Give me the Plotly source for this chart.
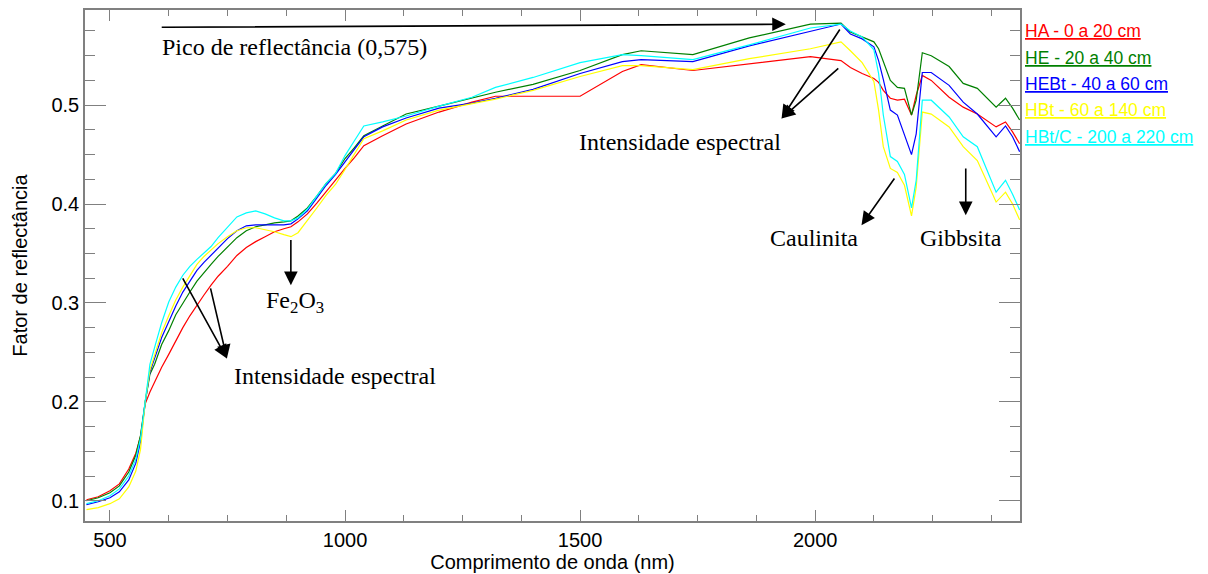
import plotly.graph_objects as go

# Wavelength grid (nm)
wavelength = [450, 475, 500, 520, 540, 555, 565, 575, 585, 595, 610, 625, 640, 655, 670,
              685, 700, 715, 730, 750, 770, 790, 810, 830, 850, 870, 885, 900, 920, 940,
              960, 980, 1000, 1020, 1040, 1080, 1130, 1200, 1270, 1320, 1400, 1500, 1590,
              1630, 1740, 1860, 1990, 2055, 2075, 2100, 2125, 2135, 2145, 2160, 2175, 2190,
              2205, 2215, 2228, 2247, 2285, 2315, 2345, 2385, 2405, 2420, 2435]

# Reflectance factor per soil horizon
ha = [.101, .104, .110, .117, .132, .148, .165, .198, .210, .220, .235, .248, .262, .275, .287,
      .298, .308, .318, .327, .337, .348, .356, .362, .367, .372, .375, .377, .382, .390, .401,
      .413, .425, .436, .447, .459, .469, .481, .493, .503, .509, .509, .509, .534,
      .541, .535, .542, .549, .545, .538, .532, .527, .523, .515, .507, .505, .506,
      .490, .510, .530, .525, .508, .498, .491, .478, .483, .473, .461]
he = [.100, .103, .108, .115, .129, .146, .166, .200, .228, .238, .258, .272, .288, .300, .311,
      .322, .331, .339, .347, .357, .366, .373, .377, .379, .381, .382, .383, .388, .396, .408,
      .421, .431, .446, .457, .469, .479, .491, .499, .507, .513, .521, .535, .551,
      .555, .551, .568, .582, .583, .574, .569, .564, .557, .545, .525, .518, .517,
      .490, .505, .553, .550, .539, .522, .517, .498, .507, .497, .485]
hebt = [.096, .099, .103, .109, .121, .138, .160, .200, .230, .244, .265, .281, .297, .311, .322,
        .333, .341, .348, .355, .365, .373, .378, .379, .379, .379, .379, .380, .385, .393, .406,
        .419, .430, .443, .455, .468, .478, .487, .497, .502, .507, .516, .532, .544,
        .546, .544, .560, .575, .582, .572, .567, .559, .545, .526, .495, .490, .471,
        .450, .471, .533, .533, .520, .503, .491, .468, .479, .468, .453]
hbt = [.091, .093, .097, .102, .114, .130, .152, .200, .232, .247, .270, .287, .303, .316, .328,
       .339, .347, .354, .360, .367, .373, .376, .376, .374, .372, .369, .367, .371, .383, .396,
       .409, .420, .435, .450, .466, .474, .485, .495, .501, .506, .515, .529, .540,
       .540, .536, .547, .557, .564, .555, .543, .524, .495, .458, .436, .432, .419,
       .388, .417, .493, .491, .478, .458, .444, .402, .412, .400, .384]
hbtc = [.097, .100, .105, .112, .125, .142, .163, .202, .238, .255, .280, .301, .316, .328, .337,
        .344, .350, .357, .366, .376, .387, .391, .393, .390, .386, .383, .383, .386, .395, .408,
        .421, .431, .449, .464, .479, .483, .489, .499, .508, .518, .528, .543, .551,
        .550, .546, .561, .578, .582, .575, .569, .556, .532, .490, .448, .443, .430,
        .396, .424, .505, .505, .488, .468, .458, .412, .424, .410, .394]

series_names = ["HA - 0 a 20 cm", "HE - 20 a 40 cm", "HEBt - 40 a 60 cm",
                "HBt - 60 a 140 cm", "HBt/C - 200 a 220 cm"]
series_values = [ha, he, hebt, hbt, hbtc]
series_colors = ["#ff0000", "#008000", "#0000ff", "#ffff00", "#00ffff"]

pico = 0.575

W, H = 1208, 574
ML, MR, MT, MB = 85, 188, 10, 53
X_RANGE = [446.9, 2435.8]
Y_RANGE = [0.0795, 0.5962]

fig = go.Figure()
for name, vals, col in zip(series_names, series_values, series_colors):
    fig.add_trace(go.Scatter(x=wavelength, y=vals, mode="lines", name=name,
                             line=dict(color=col, width=1.2), showlegend=False))

serif = "Liberation Serif, Times New Roman, serif"
sans = "Liberation Sans, Arial, Helvetica, sans-serif"


def arrow(tip, tail):
    fig.add_annotation(x=tip[0], y=tip[1], ax=tail[0], ay=tail[1],
                       xref="x", yref="y", axref="x", ayref="y", text="",
                       showarrow=True, arrowhead=2, arrowsize=1.7, arrowwidth=1.6,
                       arrowcolor="black")


def label(x, y, text, xanchor="left"):
    fig.add_annotation(x=x, y=y, xref="x", yref="y", text=text, showarrow=False,
                       xanchor=xanchor, yanchor="middle",
                       font=dict(family=serif, size=24, color="black"))


# Peak of reflectance
arrow((1937.7, 0.5818), (606.9, 0.5787))
label(606.9, 0.5590, "Pico de reflectância (%s)" % f"{pico:.3f}".replace(".", ","))

# Spectral intensity, visible region
arrow((748.7, 0.2439), (653.1, 0.3264))
arrow((748.7, 0.2439), (713.2, 0.3163))
label(760.6, 0.2265, "Intensidade espectral")

# Iron oxide feature
arrow((884.8, 0.3180), (884.8, 0.3652))
label(893.9, 0.3011, "Fe<sub>2</sub>O<sub>3</sub>", xanchor="center")

# Spectral intensity, near the peak
arrow((1928.6, 0.4865), (2054.6, 0.5780))
arrow((1928.6, 0.4865), (2052.5, 0.5386))
label(1492.8, 0.4628, "Intensidade espectral")

# Kaolinite and gibbsite absorption features
arrow((2098.6, 0.3786), (2170.9, 0.4274))
label(1997.3, 0.3652, "Caulinita", xanchor="center")
arrow((2320.4, 0.3887), (2320.4, 0.4375))
label(2309.7, 0.3652, "Gibbsita", xanchor="center")

# Legend drawn as underlined coloured text to the right of the plot
plot_w = W - ML - MR
plot_h = H - MT - MB
legend_py = [30.7, 57.5, 84.0, 110.5, 137.0]
for name, col, py in zip(series_names, series_colors, legend_py):
    fig.add_annotation(x=(1022.5 - ML) / plot_w, y=(H - MB - py) / plot_h,
                       xref="paper", yref="paper", xanchor="left", yanchor="middle",
                       showarrow=False,
                       text="<span style='text-decoration:underline'>%s</span>" % name,
                       font=dict(family=sans, size=17.5, color=col))

axis_common = dict(showline=True, linecolor="#808080", linewidth=1.5, mirror="ticks",
                   ticks="inside", tickcolor="#808080", showgrid=False, zeroline=False,
                   automargin=False,
                   tickfont=dict(family=sans, size=20, color="black"))

fig.update_xaxes(range=X_RANGE, tickvals=[500, 1000, 1500, 2000], ticklen=11, tickwidth=1.2,
                 minor=dict(tick0=500, dtick=125, ticks="inside", ticklen=6,
                            tickcolor="#808080", tickwidth=1.2),
                 title=dict(text="Comprimento de onda (nm)", standoff=4,
                            font=dict(family=sans, size=20, color="black")),
                 **axis_common)
fig.update_yaxes(range=Y_RANGE, tickvals=[0.1, 0.2, 0.3, 0.4, 0.5], ticklen=21, tickwidth=1.2,
                 minor=dict(tick0=0.1, dtick=0.025, ticks="inside", ticklen=10,
                            tickcolor="#808080", tickwidth=1.2),
                 title=dict(text="Fator de reflectância", standoff=18,
                            font=dict(family=sans, size=20, color="black")),
                 **axis_common)

fig.update_layout(width=W, height=H, margin=dict(l=ML, r=MR, t=MT, b=MB),
                  paper_bgcolor="white", plot_bgcolor="white", showlegend=False)

fig.write_html("out.html")
